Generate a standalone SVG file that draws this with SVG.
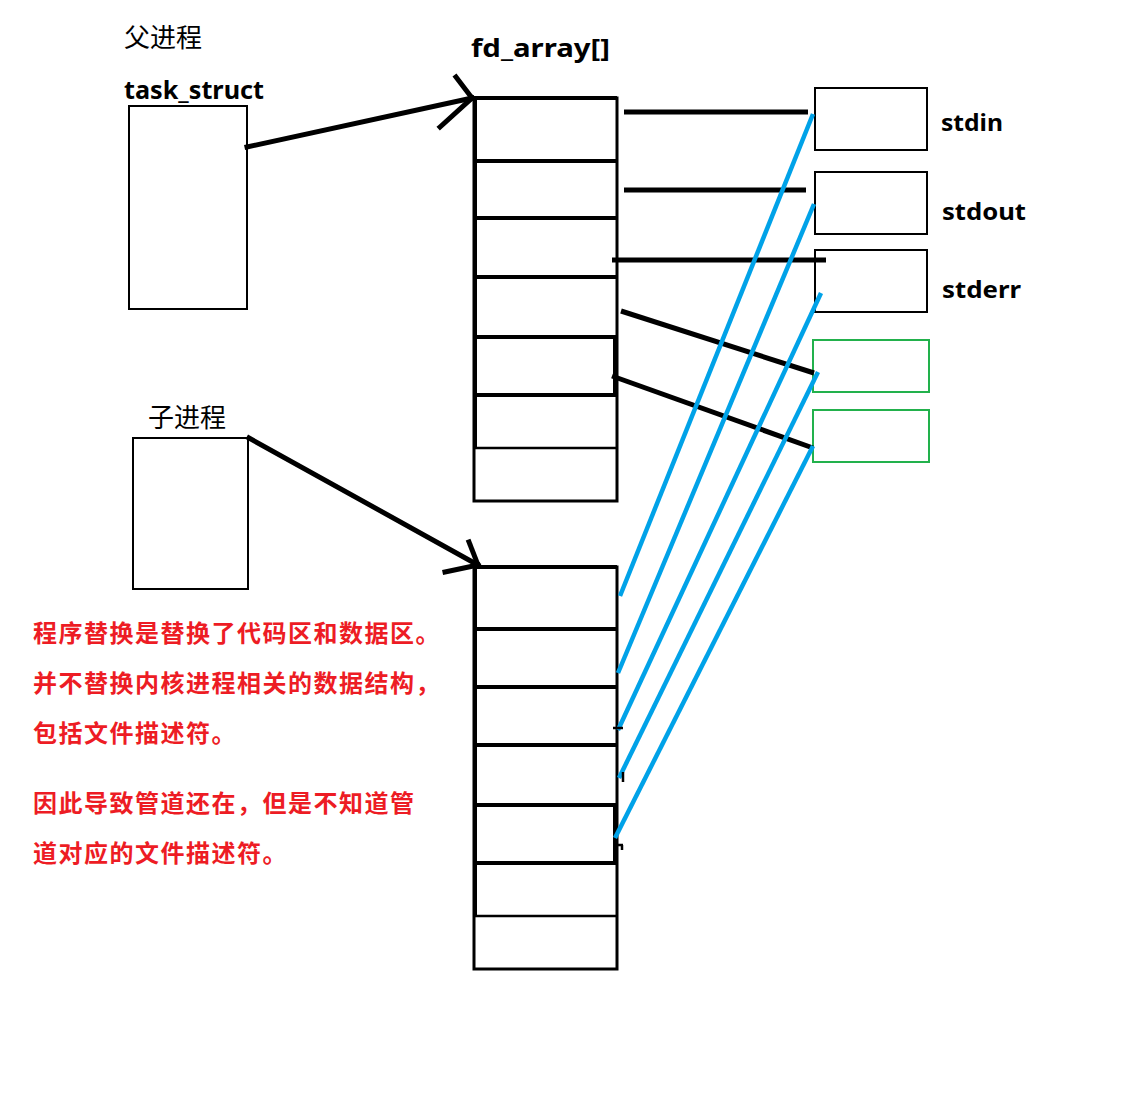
<svg xmlns="http://www.w3.org/2000/svg" width="1136" height="1093" viewBox="0 0 1136 1093">
<style>
.lbl{font-family:"Noto Sans","Noto Sans CJK SC",sans-serif;fill:#000}
.en{font-weight:bold;font-size:25px}
.cn{font-family:"Noto Sans CJK SC",sans-serif;font-size:26px}
.red{font-family:"Noto Sans CJK SC",sans-serif;font-size:24px;font-weight:bold;fill:#ED1C24;letter-spacing:1.5px}
.box{fill:#fff;stroke:#000;stroke-width:2}
.gbox{fill:#fff;stroke:#22B14C;stroke-width:2}
.cell{fill:none;stroke:#000;stroke-width:3}
.thick{stroke:#000;stroke-width:4;fill:none}
.thin{stroke:#000;stroke-width:2.5;fill:none}
.blk{stroke:#000;stroke-width:5;fill:none}
.blue{stroke:#00A2E8;stroke-width:4.5;fill:none}
.arr{stroke:#000;stroke-width:5;fill:none;stroke-linecap:square}
</style>
<rect width="1136" height="1093" fill="#fff"/>

<g id="parent-label">
<text class="cn" x="124" y="47">父进程</text>
<text class="lbl en" x="124" y="99" textLength="140" lengthAdjust="spacingAndGlyphs">task_struct</text>
</g>
<g id="parent-task">
<rect class="box" x="129" y="106" width="118" height="203"/>
</g>

<g id="fd-label"><text class="lbl en" x="471" y="57" textLength="139" lengthAdjust="spacingAndGlyphs">fd_array[]</text></g>

<g id="fd-array-parent">
<rect class="cell" x="474" y="98" width="143" height="403"/>
<line class="thick" x1="475" y1="96" x2="475" y2="448"/>
<line class="thick" x1="473" y1="98" x2="617" y2="98"/>
<line class="thick" x1="474" y1="161" x2="617" y2="161"/>
<line class="thick" x1="474" y1="218" x2="617" y2="218"/>
<line class="thick" x1="474" y1="277" x2="617" y2="277"/>
<line class="thick" x1="474" y1="337" x2="617" y2="337"/>
<line class="thick" x1="474" y1="395" x2="617" y2="395"/>
<line class="thick" x1="615" y1="337" x2="615" y2="395"/>
<line class="thin" x1="474" y1="448" x2="617" y2="448"/>
</g>

<g id="child-label"><text class="cn" x="148" y="427">子进程</text></g>
<g id="child-task">
<rect class="box" x="133" y="438" width="115" height="151"/>
</g>

<g id="fd-array-child">
<rect class="cell" x="474" y="567" width="143" height="402"/>
<line class="thick" x1="475" y1="567" x2="475" y2="916"/>
<line class="thick" x1="473" y1="567" x2="617" y2="567"/>
<line class="thick" x1="474" y1="629" x2="617" y2="629"/>
<line class="thick" x1="474" y1="687" x2="617" y2="687"/>
<line class="thick" x1="474" y1="745" x2="617" y2="745"/>
<line class="thick" x1="474" y1="805" x2="617" y2="805"/>
<line class="thick" x1="474" y1="863" x2="617" y2="863"/>
<line class="thick" x1="615" y1="805" x2="615" y2="863"/>
<line class="thin" x1="474" y1="916" x2="617" y2="916"/>
</g>

<g id="stdin">
<rect class="box" x="815" y="88" width="112" height="62"/>
<text class="lbl en" x="941" y="131" style="font-size:24px" textLength="62" lengthAdjust="spacingAndGlyphs">stdin</text>
</g>
<g id="stdout">
<rect class="box" x="815" y="172" width="112" height="62"/>
<text class="lbl en" x="942" y="220" style="font-size:24px" textLength="84" lengthAdjust="spacingAndGlyphs">stdout</text>
</g>
<g id="stderr">
<rect class="box" x="815" y="250" width="112" height="62"/>
<text class="lbl en" x="942" y="298" style="font-size:24px" textLength="79" lengthAdjust="spacingAndGlyphs">stderr</text>
</g>
<g id="pipe-read"><rect class="gbox" x="813" y="340" width="116" height="52"/></g>
<g id="pipe-write"><rect class="gbox" x="813" y="410" width="116" height="52"/></g>

<g id="connectors">
<line class="arr" x1="247" y1="147" x2="472" y2="98"/>
<line class="arr" x1="456" y1="77" x2="472" y2="98"/>
<line class="arr" x1="440" y1="127" x2="472" y2="98"/>
<line class="arr" x1="249" y1="438" x2="478" y2="565"/>
<line class="arr" x1="469" y1="542" x2="478" y2="565"/>
<line class="arr" x1="445" y1="572" x2="478" y2="565"/>

<line class="blk" x1="624" y1="112" x2="808" y2="112"/>
<line class="blk" x1="624" y1="190" x2="806" y2="190"/>
<line class="blk" x1="612" y1="260" x2="826" y2="260"/>
<line class="blk" x1="621" y1="311" x2="814" y2="373"/>
<line class="blk" x1="612" y1="376" x2="813" y2="448"/>

<line class="blue" x1="620" y1="596" x2="813" y2="114"/>
<line class="blue" x1="618" y1="673" x2="814" y2="204"/>
<line class="blue" x1="618" y1="730" x2="821" y2="293"/>
<line class="blue" x1="619" y1="778" x2="818" y2="372"/>
<line class="blue" x1="615" y1="838" x2="813" y2="446"/>

<line class="thin" x1="613" y1="728" x2="623" y2="728"/>
<line class="thin" x1="623" y1="772" x2="623" y2="782"/>
<line class="thin" x1="613" y1="845" x2="623" y2="845"/>
<line class="thin" x1="622" y1="845" x2="622" y2="850"/>
</g>

<g id="notes">
<text class="red" x="33" y="642">程序替换是替换了代码区和数据区。</text>
<text class="red" x="33" y="692">并不替换内核进程相关的数据结构，</text>
<text class="red" x="33" y="742">包括文件描述符。</text>
<text class="red" x="33" y="812">因此导致管道还在，但是不知道管</text>
<text class="red" x="33" y="862">道对应的文件描述符。</text>
</g>
</svg>
